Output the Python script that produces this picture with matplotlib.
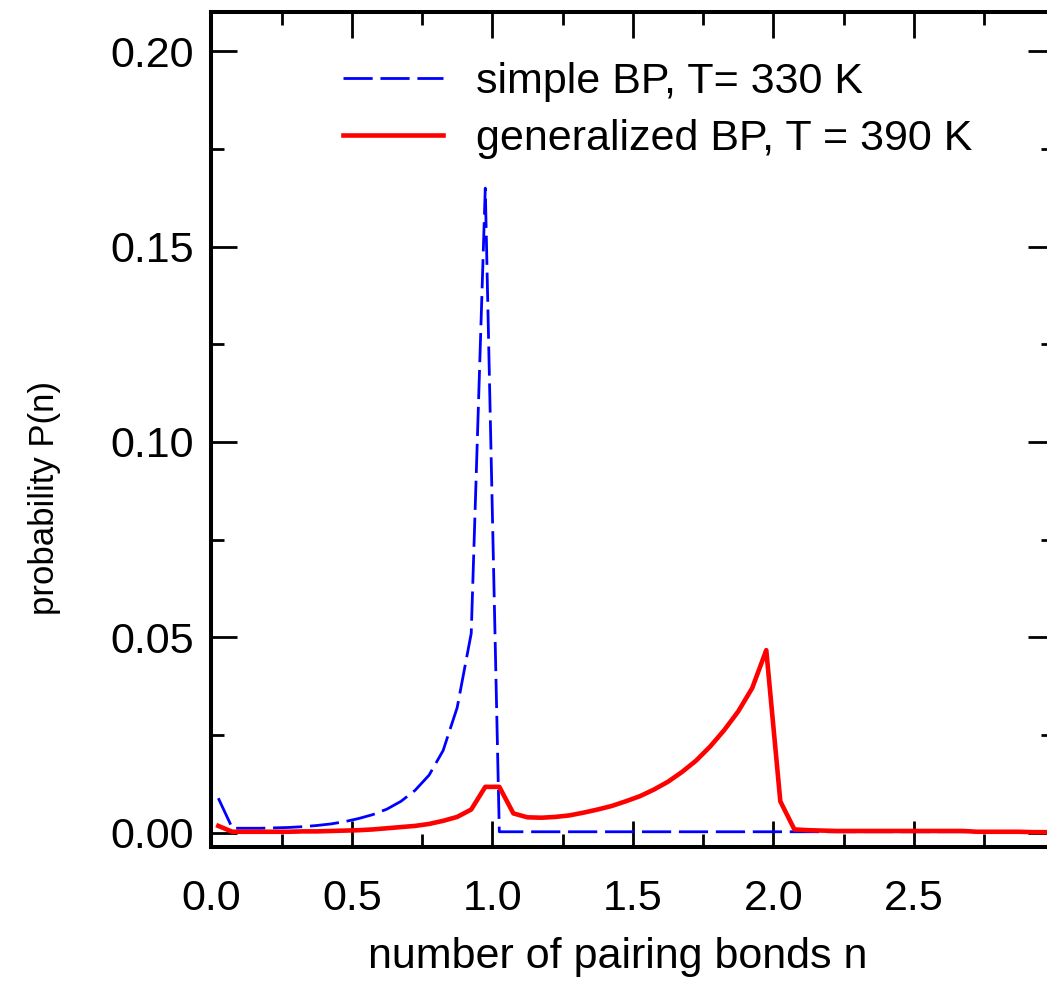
import numpy as np
import matplotlib
matplotlib.use('Agg')
import matplotlib.pyplot as plt

# bin centres n, step 0.05
n = np.arange(0.025, 3.0, 0.05)

simpleBP = [0.0088, 0.0011, 0.0011, 0.0011, 0.0012, 0.0013, 0.0015, 0.0018, 0.0022, 0.0028,
            0.0036, 0.0046, 0.0060, 0.0080, 0.0108, 0.0147, 0.0210, 0.0320, 0.0510, 0.1650,
            0.0002] + [0.0002] * 39

generalBP = [0.0017, 0.0002, 0.0002, 0.0002, 0.0002, 0.0002, 0.0003, 0.0003, 0.0004, 0.0005,
             0.0006, 0.0008, 0.0011, 0.0014, 0.0017, 0.0022, 0.0030, 0.0040, 0.0059, 0.0117,
             0.0117, 0.0049, 0.0039, 0.0038, 0.0040, 0.0044, 0.0051, 0.0059, 0.0068, 0.0080,
             0.0093, 0.0110, 0.0130, 0.0155, 0.0184, 0.0220, 0.0262, 0.0310, 0.0370, 0.0467,
             0.0080, 0.0008, 0.0006, 0.0005, 0.0004, 0.0004, 0.0004, 0.0004, 0.0004, 0.0004,
             0.0004, 0.0004, 0.0004, 0.0004, 0.0002, 0.0002, 0.0002, 0.0002, 0.0001, 0.0001]

labels = ['simple BP, T= 330 K', 'generalized BP, T = 390 K']
xticks = [0.0, 0.5, 1.0, 1.5, 2.0, 2.5]
yticks = [0.00, 0.05, 0.10, 0.15, 0.20]

plt.rcParams['font.family'] = ['Liberation Sans', 'DejaVu Sans']
fs = 31

W, H = 1047, 994
fig = plt.figure(figsize=(W / 100, H / 100), dpi=100)
left, bottom, top = 211.3, 847, 12
ax = fig.add_axes([left / W, (H - bottom) / H, 843 / W, (bottom - top) / H])

ax.plot(n, simpleBP, color='blue', lw=2, dashes=(10.5, 2.8), label=labels[0])
ax.plot(n, generalBP, color='red', lw=3.3, label=labels[1])

ax.set_xlim(0, 3.0)
ax.set_ylim(-0.0037, 0.2101)
ax.set_xticks(xticks)
ax.set_xticklabels(['%.1f' % v for v in xticks])
ax.set_yticks(yticks)
ax.set_yticklabels(['%.2f' % v for v in yticks])
ax.set_xticks(np.arange(0.25, 3.0, 0.5), minor=True)
ax.set_yticks(np.arange(0.025, 0.21, 0.05), minor=True)

for s in ax.spines.values():
    s.set_linewidth(2.9)
ax.tick_params(which='both', direction='in', top=True, right=True, width=2, labelsize=fs)
ax.tick_params(which='major', length=18.7)
ax.tick_params(which='minor', length=9.4)
ax.tick_params(axis='x', pad=23)
ax.tick_params(axis='y', pad=12.5)

ax.set_xlabel('number of pairing bonds n', fontsize=fs)
ax.xaxis.set_label_coords(0.4815, -0.1078)
ax.set_ylabel('probability P(n)', fontsize=25)
ax.yaxis.set_label_coords(-0.1783, 0.418)

ax.legend(loc='upper left', bbox_to_anchor=(0.156, 0.9402), frameon=False, fontsize=fs,
          handlelength=2.32, handletextpad=0.77, labelspacing=0.40, borderpad=0, borderaxespad=0)

fig.savefig('out.png', dpi=100)
